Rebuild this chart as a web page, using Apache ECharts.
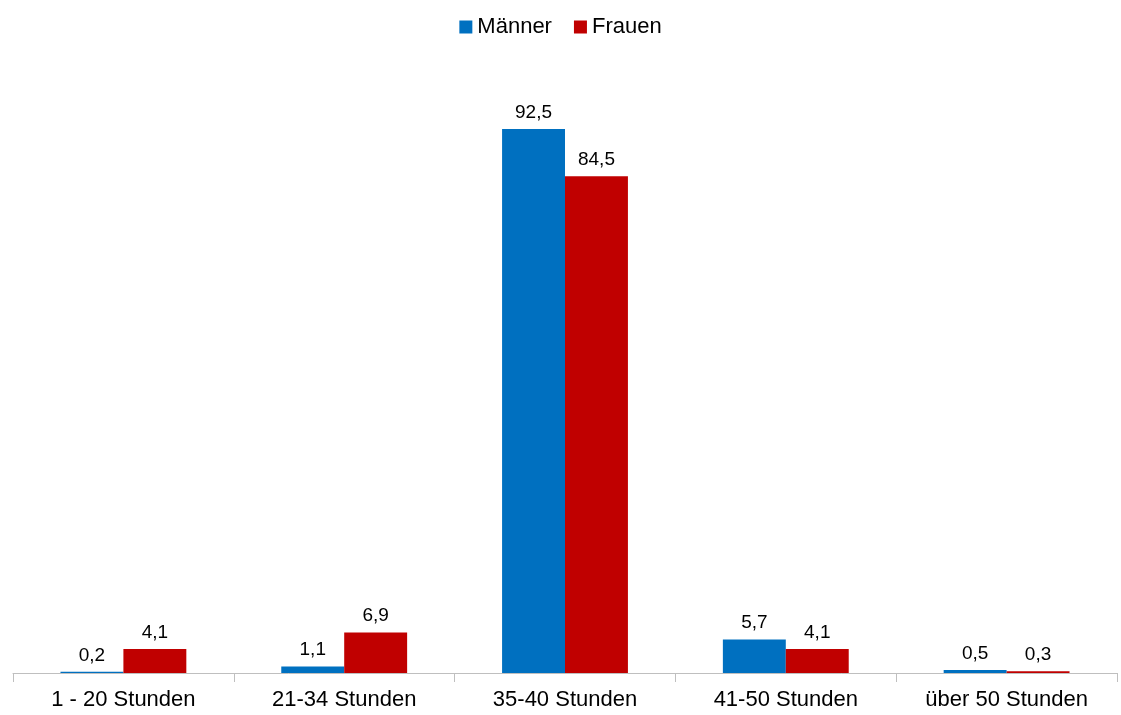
<!DOCTYPE html>
<html>
<head>
<meta charset="utf-8">
<script src="https://cdn.jsdelivr.net/npm/echarts@6/dist/echarts.min.js"></script>
<style>
  html, body { margin: 0; padding: 0; background: #fff; }
  #main { width: 1121px; height: 715px; }
</style>
</head>
<body>
<div id="main"></div>
<script>
var categories = ['1 - 20 Stunden', '21-34 Stunden', '35-40 Stunden', '41-50 Stunden', 'über 50 Stunden'];
var maenner = [0.2, 1.1, 92.5, 5.7, 0.5];
var frauen = [4.1, 6.9, 84.5, 4.1, 0.3];

var myChart = echarts.init(document.getElementById('main'));

function fmt(p) {
    return p.value.toFixed(1).replace('.', ',');
}

var labelStyle = {
    show: true,
    position: 'top',
    distance: 7,
    formatter: fmt,
    color: '#000',
    fontSize: 19,
    fontFamily: 'Liberation Sans, Arial, sans-serif'
};

var option = {
    animation: false,
    backgroundColor: '#fff',
    legend: {
        top: 11,
        left: 'center',
        itemWidth: 13,
        itemHeight: 13,
        itemGap: 22,
        icon: 'rect',
        textStyle: { fontSize: 22, color: '#000', fontFamily: 'Liberation Sans, Arial, sans-serif' },
        data: ['Männer', 'Frauen']
    },
    grid: {
        left: 13,
        right: 4,
        top: 85,
        bottom: 42,
        containLabel: false
    },
    xAxis: {
        type: 'category',
        data: categories,
        axisLine: { lineStyle: { color: '#bfbfbf', width: 1 } },
        axisTick: { show: true, alignWithLabel: false, length: 9, lineStyle: { color: '#bfbfbf' } },
        axisLabel: {
            color: '#000',
            fontSize: 22,
            margin: 16,
            fontFamily: 'Liberation Sans, Arial, sans-serif'
        }
    },
    yAxis: {
        type: 'value',
        min: 0,
        max: 100,
        show: false
    },
    series: [
        {
            name: 'Männer',
            type: 'bar',
            data: maenner,
            barWidth: '28.5%',
            barGap: '0%',
            itemStyle: { color: '#0070C0' },
            label: labelStyle
        },
        {
            name: 'Frauen',
            type: 'bar',
            data: frauen,
            barWidth: '28.5%',
            itemStyle: { color: '#C00000' },
            label: labelStyle
        }
    ]
};

myChart.setOption(option);
</script>
</body>
</html>
